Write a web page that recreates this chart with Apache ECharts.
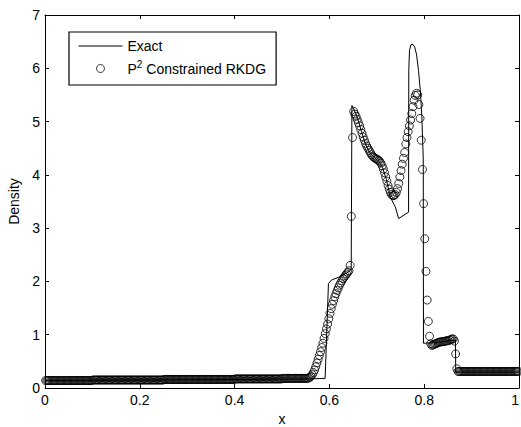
<!DOCTYPE html>
<html>
<head>
<meta charset="utf-8">
<script src="https://cdn.jsdelivr.net/npm/echarts@6/dist/echarts.min.js"></script>
<style>
  html, body { margin: 0; padding: 0; background: #fff; }
  #chart { width: 521px; height: 427px; }
</style>
</head>
<body>
<div id="chart"></div>
<script>
// ---------- data ----------
// numerical solution: cell averages on a uniform mesh of 400 cells over [0, 1]
const cellCount = 400;

// cells 0..221 (x < 0.555): nearly constant left state
const densityLeftState = [
  0.14,0.14,0.14,0.14,0.14,0.14,0.14,0.14,0.14,0.14,0.14,0.14,0.14,0.14,0.14,0.14,0.14,0.14,0.14,0.14,
  0.14,0.14,0.14,0.14,0.14,0.14,0.14,0.14,0.14,0.14,0.14,0.14,0.14,0.14,0.14,0.14,0.14,0.14,0.14,0.14,
  0.15,0.15,0.15,0.15,0.15,0.15,0.15,0.15,0.15,0.15,0.15,0.15,0.15,0.15,0.15,0.15,0.15,0.15,0.15,0.15,
  0.15,0.15,0.15,0.15,0.15,0.15,0.15,0.15,0.15,0.15,0.15,0.15,0.15,0.15,0.15,0.15,0.15,0.15,0.15,0.15,
  0.15,0.15,0.15,0.15,0.15,0.15,0.15,0.15,0.15,0.15,0.15,0.15,0.15,0.15,0.15,0.15,0.15,0.15,0.15,0.15,
  0.16,0.16,0.16,0.16,0.16,0.16,0.16,0.16,0.16,0.16,0.16,0.16,0.16,0.16,0.16,0.16,0.16,0.16,0.16,0.16,
  0.16,0.16,0.16,0.16,0.16,0.16,0.16,0.16,0.16,0.16,0.16,0.16,0.16,0.16,0.16,0.16,0.16,0.16,0.16,0.16,
  0.16,0.16,0.16,0.16,0.16,0.16,0.16,0.16,0.16,0.16,0.16,0.16,0.16,0.16,0.16,0.16,0.16,0.16,0.16,0.16,
  0.17,0.17,0.17,0.17,0.17,0.17,0.17,0.17,0.17,0.17,0.17,0.17,0.17,0.17,0.17,0.17,0.17,0.17,0.17,0.17,
  0.17,0.17,0.17,0.17,0.17,0.17,0.17,0.17,0.17,0.17,0.17,0.17,0.17,0.17,0.17,0.17,0.17,0.17,0.17,0.17,
  0.18,0.18,0.18,0.18,0.18,0.18,0.18,0.18,0.18,0.18,0.18,0.18,0.18,0.18,0.18,0.18,0.18,0.18,0.18,0.18,0.18,0.18
];

// cells 222..348: blast-wave interaction region
const densityBlastRegion = [
  0.19,0.20,0.22,0.25,0.29,0.34,0.40,0.47,0.54,0.61,
  0.68,0.76,0.84,0.93,1.02,1.11,1.20,1.30,1.40,1.49,
  1.57,1.64,1.71,1.77,1.83,1.88,1.93,1.97,2.01,2.05,
  2.08,2.11,2.14,2.17,2.20,2.30,3.22,4.70,5.19,5.14,
  5.10,5.04,4.98,4.92,4.85,4.78,4.71,4.65,4.59,4.54,
  4.50,4.46,4.42,4.38,4.35,4.33,4.31,4.30,4.29,4.27,
  4.25,4.22,4.17,4.11,4.04,3.96,3.88,3.80,3.73,3.67,
  3.63,3.61,3.61,3.63,3.67,3.74,3.84,3.96,4.08,4.20,
  4.31,4.42,4.58,4.70,4.81,4.92,5.03,5.15,5.28,5.40,
  5.49,5.53,5.50,5.32,5.06,4.65,4.10,3.46,2.80,2.19,
  1.65,1.25,0.97,0.83,0.80,0.81,0.82,0.83,0.84,0.85,
  0.86,0.86,0.87,0.87,0.87,0.88,0.88,0.89,0.89,0.90,
  0.91,0.92,0.92,0.88,0.64,0.36,0.31
];

// cells 349..399: right state
const densityRightState = [
  0.31,0.31,0.31,0.31,0.31,0.31,0.31,0.31,0.31,0.31,
  0.31,0.31,0.31,0.31,0.31,0.31,0.31,0.31,0.31,0.31,
  0.31,0.31,0.31,0.31,0.31,0.31,0.31,0.31,0.31,0.31,
  0.31,0.31,0.31,0.31,0.31,0.31,0.31,0.31,0.31,0.31,
  0.31,0.31,0.31,0.31,0.31,0.31,0.31,0.31,0.31,0.31,
  0.31
];

// exact (reference) solution, as a polyline
const exactX = [0, 0.2, 0.4, 0.55, 0.591, 0.598, 0.605, 0.62, 0.635, 0.646, 0.6475, 0.652, 0.66, 0.668, 0.676, 0.685, 0.695, 0.705, 0.712, 0.72, 0.7285, 0.739, 0.746, 0.753, 0.760, 0.767, 0.7675, 0.769, 0.772, 0.776, 0.780, 0.784, 0.788, 0.792, 0.795, 0.798, 0.7985, 0.82, 0.84, 0.866, 0.8665, 1];
const exactY = [0.14, 0.15, 0.16, 0.17, 0.18, 1.96, 2.03, 2.08, 2.15, 2.22, 5.30, 5.22, 5.05, 4.80, 4.58, 4.42, 4.32, 4.25, 4.14, 3.92, 3.58, 3.40, 3.18, 3.22, 3.26, 3.30, 5.96, 6.34, 6.44, 6.45, 6.40, 6.25, 5.96, 5.55, 5.10, 4.30, 0.84, 0.85, 0.87, 0.90, 0.30, 0.30];

const seriesNames = ['Exact', 'P2 Constrained RKDG'];
const xTicks = { min: 0, max: 1, interval: 0.2 };
const yTicks = { min: 0, max: 7, interval: 1 };

// ---------- build ----------
const densityAll = densityLeftState.concat(densityBlastRegion, densityRightState);
const numericalData = densityAll.map((d, i) => [(i + 0.5) / cellCount, d]);
const exactData = exactX.map((x, i) => [x, exactY[i]]);

const FONT = 'Liberation Sans, Arial, Helvetica, sans-serif';
const axisCommon = {
  axisLine: { show: true, onZero: false, lineStyle: { color: '#000', width: 1 } },
  axisTick: { show: true, inside: true, length: 4, lineStyle: { color: '#000', width: 1 } },
  splitLine: { show: false },
  axisLabel: { color: '#000', fontSize: 14, fontFamily: FONT, margin: 5 }
};

const chart = echarts.init(document.getElementById('chart'), null, { renderer: 'svg' });
chart.setOption({
  animation: false,
  backgroundColor: '#fff',
  grid: { left: 45, right: 2, top: 15, bottom: 39, containLabel: false, outerBoundsMode: 'none' },
  xAxis: [
    Object.assign({}, axisCommon, {
      type: 'value', position: 'bottom', min: xTicks.min, max: xTicks.max, interval: xTicks.interval,
      axisLabel: { color: '#000', fontSize: 14, fontFamily: FONT, margin: 5, alignMaxLabel: 'right' },
      name: 'x', nameLocation: 'middle', nameGap: 24,
      nameTextStyle: { color: '#000', fontSize: 14, fontFamily: FONT }
    }),
    Object.assign({}, axisCommon, {
      type: 'value', position: 'top', min: xTicks.min, max: xTicks.max, interval: xTicks.interval,
      axisLabel: { show: false }
    })
  ],
  yAxis: [
    Object.assign({}, axisCommon, {
      type: 'value', position: 'left', min: yTicks.min, max: yTicks.max, interval: yTicks.interval,
      name: 'Density', nameLocation: 'middle', nameGap: 20,
      nameTextStyle: { color: '#000', fontSize: 14, fontFamily: FONT }
    }),
    Object.assign({}, axisCommon, {
      type: 'value', position: 'right', min: yTicks.min, max: yTicks.max, interval: yTicks.interval,
      axisLabel: { show: false }
    })
  ],
  legend: {
    orient: 'vertical', left: 69, top: 32,
    padding: [7, 10, 7, 9],
    itemWidth: 44, itemHeight: 8, itemGap: 6,
    borderColor: '#000', borderWidth: 1.2, backgroundColor: '#fff',
    lineStyle: { color: '#000', width: 1 },
    data: [
      { name: seriesNames[0], itemStyle: { opacity: 0 } },
      { name: seriesNames[1], icon: 'circle',
        itemStyle: { color: 'rgba(255,255,255,0)', borderColor: '#000', borderWidth: 1 } }
    ],
    formatter: function (name) {
      if (name === seriesNames[1]) return '{t|P}{s|2}{t| Constrained RKDG}';
      return '{t|' + name + '}';
    },
    textStyle: {
      color: '#000', fontSize: 14, fontFamily: FONT,
      rich: {
        t: { fontSize: 14, fontFamily: FONT, color: '#000', lineHeight: 17 },
        s: { fontSize: 10, fontFamily: FONT, color: '#000', lineHeight: 17, padding: [0, 0, 9, 0] }
      }
    }
  },
  series: [
    {
      type: 'scatter', name: seriesNames[1], data: numericalData,
      symbol: 'circle', symbolSize: 8,
      itemStyle: { color: 'rgba(255,255,255,0)', borderColor: '#000', borderWidth: 1 },
      z: 2
    },
    {
      type: 'line', name: seriesNames[0], data: exactData,
      symbol: 'none', lineStyle: { color: '#000', width: 1 },
      itemStyle: { color: '#000' },
      z: 3
    }
  ]
});
</script>
</body>
</html>
